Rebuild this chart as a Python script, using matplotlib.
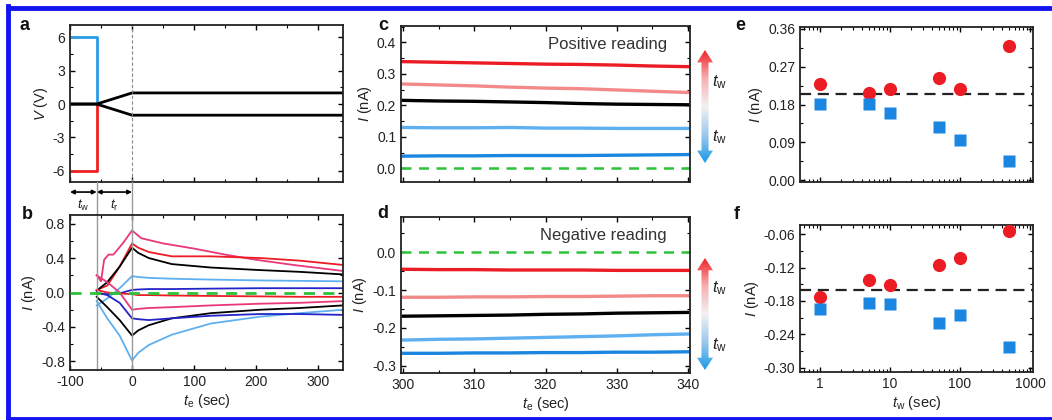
import matplotlib
matplotlib.use('Agg')
import matplotlib.pyplot as plt
import numpy as np
from matplotlib.ticker import MultipleLocator, LogLocator, NullFormatter
from matplotlib.colors import LinearSegmentedColormap
from matplotlib.patches import Polygon
from matplotlib.lines import Line2D
import matplotlib.transforms as mtransforms

plt.rcParams['font.family'] = ['Liberation Sans', 'DejaVu Sans']
plt.rcParams['mathtext.fontset'] = 'custom'
plt.rcParams['mathtext.rm'] = 'Liberation Sans'
plt.rcParams['mathtext.it'] = 'Liberation Sans:italic'
plt.rcParams['axes.unicode_minus'] = False

# ---- panel a : voltage protocol ----
t_write = -57
a_pulse_t = [-100, t_write, t_write]
a_pulse_pos = [6, 6, 0]
a_pulse_neg = [-6, -6, 0]
a_read_t = [-100, t_write, 0, 340]
a_read_pos = [0, 0, 1, 1]
a_read_neg = [0, 0, -1, -1]

# ---- panel b : current transients ----
b_mag_pos_t = [-57, -50, -45, -38, -30, -15, 0, 15, 50, 100, 150, 200, 260, 340]
b_mag_pos = [0.20, 0.13, 0.38, 0.44, 0.44, 0.57, 0.72, 0.63, 0.57, 0.51, 0.44, 0.38, 0.32, 0.25]
b_t = [-57, -40, -20, 0, 10, 27, 64, 127, 207, 270, 340]
b_red_pos = [0.03, 0.08, 0.30, 0.57, 0.52, 0.47, 0.42, 0.42, 0.40, 0.37, 0.32]
b_black_pos = [0.02, 0.12, 0.30, 0.52, 0.46, 0.40, 0.33, 0.29, 0.26, 0.24, 0.21]
b_lblue_pos = [-0.15, -0.07, 0.05, 0.19, 0.18, 0.17, 0.16, 0.15, 0.14, 0.135, 0.13]
b_dblue_pos = [-0.01, -0.02, -0.01, 0.03, 0.035, 0.04, 0.04, 0.045, 0.05, 0.05, 0.05]
b_red_neg = [0.03, 0.0, -0.01, -0.02, -0.03, -0.03, -0.035, -0.04, -0.045, -0.05, -0.05]
b_mag_neg = [0.20, 0.12, 0.0, -0.20, -0.19, -0.18, -0.17, -0.15, -0.13, -0.12, -0.10]
b_black_neg = [-0.05, -0.17, -0.32, -0.50, -0.44, -0.38, -0.30, -0.24, -0.20, -0.18, -0.15]
b_lblue_neg = [-0.10, -0.30, -0.50, -0.79, -0.70, -0.61, -0.49, -0.36, -0.28, -0.24, -0.20]
b_dblue_neg = [0.0, -0.03, -0.12, -0.30, -0.31, -0.32, -0.30, -0.27, -0.25, -0.25, -0.26]

# ---- panels c, d : reading currents ----
cd_t = [300, 305, 310, 315, 320, 325, 330, 335, 340]
c_red = [0.339, 0.337, 0.335, 0.333, 0.331, 0.330, 0.328, 0.325, 0.323]
c_pink = [0.268, 0.265, 0.262, 0.258, 0.255, 0.253, 0.249, 0.245, 0.241]
c_black = [0.216, 0.214, 0.213, 0.211, 0.209, 0.206, 0.204, 0.203, 0.202]
c_lblue = [0.130, 0.129, 0.129, 0.130, 0.128, 0.128, 0.127, 0.127, 0.127]
c_blue = [0.039, 0.040, 0.040, 0.041, 0.041, 0.041, 0.042, 0.043, 0.044]
d_red = [-0.045, -0.046, -0.046, -0.047, -0.047, -0.047, -0.048, -0.048, -0.048]
d_pink = [-0.119, -0.119, -0.118, -0.118, -0.117, -0.117, -0.116, -0.115, -0.115]
d_black = [-0.169, -0.168, -0.167, -0.166, -0.164, -0.163, -0.161, -0.160, -0.159]
d_lblue = [-0.232, -0.230, -0.229, -0.227, -0.225, -0.223, -0.221, -0.218, -0.216]
d_blue = [-0.267, -0.267, -0.266, -0.266, -0.265, -0.265, -0.264, -0.264, -0.263]

# ---- panels e, f : current vs write time ----
tw = [1, 5, 10, 50, 100, 500]
e_red = [0.228, 0.207, 0.216, 0.242, 0.216, 0.320]
e_blue = [0.181, 0.182, 0.159, 0.127, 0.095, 0.047]
e_ref = 0.204
f_red = [-0.173, -0.143, -0.151, -0.115, -0.103, -0.053]
f_blue = [-0.194, -0.183, -0.186, -0.219, -0.205, -0.263]
f_ref = -0.161

RED = '#ec1c24'
PINK = '#f28a8a'
MAG = '#e8387a'
LBLUE = '#5fb0f0'
BLUE = '#1a86e0'
DBLUE = '#2424c8'
GREEN = '#2cc23a'

W, H = 1052, 420
fig = plt.figure(figsize=(W / 100, H / 100), dpi=100)


def px_rect(left, top, right, bottom):
    return [left / W, 1 - bottom / H, (right - left) / W, (bottom - top) / H]


def style(ax):
    ax.tick_params(which='both', direction='in', top=True, right=True,
                   labelsize=10, labelcolor='#222')
    ax.tick_params(which='major', length=3.5, width=1)
    ax.tick_params(which='minor', length=2, width=0.8)
    for s in ax.spines.values():
        s.set_linewidth(1.3)
        s.set_color('#222')


ax_a = fig.add_axes(px_rect(70, 25, 343, 182))
ax_b = fig.add_axes(px_rect(70, 215, 343, 370))
ax_c = fig.add_axes(px_rect(401, 26, 690, 182))
ax_d = fig.add_axes(px_rect(401, 217, 690, 373))
ax_e = fig.add_axes(px_rect(800, 27, 1033, 182))
ax_f = fig.add_axes(px_rect(800, 225, 1033, 372))

lab = dict(fontsize=10.5, color='#222')

# panel a
ax_a.plot(a_pulse_t, a_pulse_pos, color='#2a9be6', lw=2)
ax_a.plot(a_pulse_t, a_pulse_neg, color='#ee2020', lw=2)
ax_a.plot(a_read_t, a_read_pos, color='k', lw=2)
ax_a.plot(a_read_t, a_read_neg, color='k', lw=2)
ax_a.axvline(0, color='#888', lw=0.8, ls=(0, (3, 2)))
ax_a.set_xlim(-100, 340)
ax_a.set_ylim(-7, 7.1)
ax_a.set_yticks([-6, -3, 0, 3, 6])
ax_a.yaxis.set_minor_locator(MultipleLocator(1.5))
ax_a.xaxis.set_major_locator(MultipleLocator(100))
ax_a.xaxis.set_minor_locator(MultipleLocator(50))
ax_a.set_xticklabels([])
ax_a.set_ylabel(r'$V$ (V)', labelpad=2, **lab)
style(ax_a)

bl = mtransforms.blended_transform_factory(ax_a.transData, ax_a.transAxes)
for x0, x1, txt in [(-100, t_write, r'$t_\mathrm{w}$'), (t_write, 0, r'$t_\mathrm{r}$')]:
    ax_a.annotate('', xy=(x0, -0.064), xytext=(x1, -0.064), xycoords=bl, textcoords=bl,
                  arrowprops=dict(arrowstyle='<|-|>', color='k', lw=1.2,
                                  mutation_scale=6, shrinkA=0, shrinkB=0),
                  annotation_clip=False)
    ax_a.text((x0 + x1) / 2, -0.15, txt, transform=bl, ha='center', va='center',
              fontsize=9.5, color='#222')

# panel b
ax_b.plot(b_mag_pos_t, b_mag_pos, color=MAG, lw=1.3)
for ys, col in [(b_red_pos, RED), (b_black_pos, 'k'), (b_lblue_pos, LBLUE),
                (b_dblue_pos, DBLUE), (b_red_neg, RED), (b_mag_neg, MAG),
                (b_black_neg, 'k'), (b_lblue_neg, LBLUE), (b_dblue_neg, DBLUE)]:
    ax_b.plot(b_t, ys, color=col, lw=1.3)
ax_b.axhline(0, color=GREEN, lw=2, ls=(0, (4, 3)), zorder=5)
blb = mtransforms.blended_transform_factory(ax_b.transData, ax_b.transAxes)
ax_b.plot([t_write, t_write], [0, 1.215], transform=blb, color='#999', lw=1,
          clip_on=False)
ax_b.plot([0, 0], [0, 1.215], transform=blb, color='#999', lw=1, clip_on=False)
ax_b.set_xlim(-100, 340)
ax_b.set_ylim(-0.9, 0.9)
ax_b.set_yticks([-0.8, -0.4, 0.0, 0.4, 0.8])
ax_b.yaxis.set_minor_locator(MultipleLocator(0.2))
ax_b.xaxis.set_major_locator(MultipleLocator(100))
ax_b.xaxis.set_minor_locator(MultipleLocator(50))
ax_b.set_xlabel(r'$t_\mathrm{e}$ (sec)', labelpad=2, **lab)
ax_b.set_ylabel(r'$I$ (nA)', labelpad=2, **lab)
style(ax_b)

# panels c, d
for ax, series in [(ax_c, [c_red, c_pink, c_black, c_lblue, c_blue]),
                   (ax_d, [d_red, d_pink, d_black, d_lblue, d_blue])]:
    for ys, col in zip(series, [RED, PINK, 'k', LBLUE, BLUE]):
        ax.plot(cd_t, ys, color=col, lw=2.4)
    ax.axhline(0, color=GREEN, lw=1.8, ls=(0, (4, 3)))
    ax.set_xlim(299.7, 340.3)
    ax.xaxis.set_major_locator(MultipleLocator(10))
    ax.xaxis.set_minor_locator(MultipleLocator(5))
    ax.yaxis.set_major_locator(MultipleLocator(0.1))
    ax.yaxis.set_minor_locator(MultipleLocator(0.05))
    ax.set_ylabel(r'$I$ (nA)', labelpad=2, **lab)
    style(ax)
ax_c.set_ylim(-0.043, 0.452)
ax_c.set_xticklabels([])
ax_d.set_ylim(-0.319, 0.093)
ax_d.set_xlabel(r'$t_\mathrm{e}$ (sec)', labelpad=2, **lab)
ax_c.text(0.92, 0.88, 'Positive reading', transform=ax_c.transAxes, ha='right',
          va='center', fontsize=12, color='#333')
ax_d.text(0.92, 0.88, 'Negative reading', transform=ax_d.transAxes, ha='right',
          va='center', fontsize=12, color='#333')

# panels e, f
for ax, r, b, ref in [(ax_e, e_red, e_blue, e_ref), (ax_f, f_red, f_blue, f_ref)]:
    ax.axhline(ref, color='#222', lw=1.6, ls=(0, (5, 3)), zorder=1)
    ax.plot(tw, r, 'o', color=RED, ms=9.5, mec='none', zorder=3, clip_on=False)
    ax.plot(tw, b, 's', color=BLUE, ms=8, mec='none', zorder=3, clip_on=False)
    ax.set_xscale('log')
    ax.set_xlim(0.52, 1100)
    ax.xaxis.set_minor_locator(LogLocator(base=10, subs=np.arange(2, 10)))
    ax.xaxis.set_minor_formatter(NullFormatter())
    ax.set_ylabel(r'$I$ (nA)', labelpad=2, **lab)
    style(ax)
ax_e.set_ylim(-0.004, 0.364)
ax_e.set_yticks([0.0, 0.09, 0.18, 0.27, 0.36])
ax_e.set_yticklabels(['0.00', '0.09', '0.18', '0.27', '0.36'])
ax_e.yaxis.set_minor_locator(MultipleLocator(0.045))
ax_e.set_xticklabels([])
ax_f.set_ylim(-0.308, -0.043)
ax_f.set_yticks([-0.30, -0.24, -0.18, -0.12, -0.06])
ax_f.set_yticklabels(['-0.30', '-0.24', '-0.18', '-0.12', '-0.06'])
ax_f.yaxis.set_minor_locator(MultipleLocator(0.03))
ax_f.set_xticks([1, 10, 100, 1000])
ax_f.set_xticklabels(['1', '10', '100', '1000'])
ax_f.set_xlabel(r'$t_\mathrm{w}$ (sec)', labelpad=2, **lab)

# gradient arrows
cmap = LinearSegmentedColormap.from_list('bw_r', ['#1a9ae8', '#9cc8ee', '#f4f0f2',
                                                  '#f6b0b0', '#ee2228'])


def gradient_arrow(rect):
    ax = fig.add_axes(rect)
    ax.set_axis_off()
    ax.set_xlim(0, 1)
    ax.set_ylim(0, 1)
    hd, sw = 0.11, 0.22
    verts = [(0.5, 1), (1, 1 - hd), (0.5 + sw, 1 - hd), (0.5 + sw, hd), (1, hd),
             (0.5, 0), (0, hd), (0.5 - sw, hd), (0.5 - sw, 1 - hd), (0, 1 - hd)]
    poly = Polygon(verts, closed=True, fc='none', ec='none', transform=ax.transAxes)
    ax.add_patch(poly)
    grad = np.linspace(0, 1, 256).reshape(-1, 1)
    im = ax.imshow(grad, cmap=cmap, extent=[0, 1, 0, 1], aspect='auto', origin='lower')
    im.set_clip_path(poly)


gradient_arrow(px_rect(697, 50, 713, 163))
gradient_arrow(px_rect(697, 258, 713, 370))
for y in [82, 137, 288, 345]:
    fig.text(712 / W, 1 - y / H, r'$t_\mathrm{w}$', fontsize=12, color='#222',
             ha='left', va='center')

# panel letters
for x, y, s in [(25, 25, 'a'), (27, 215, 'b'), (383, 25, 'c'), (383, 213, 'd'),
                (740, 25, 'e'), (737, 215, 'f')]:
    fig.text(x / W, 1 - y / H, s, fontsize=13, fontweight='bold', ha='center',
             va='center', color='#111')

# blue frame
fr = '#1414f0'
fig.add_artist(Line2D([8 / W, 8 / W], [0, 1 - 6 / H], color=fr, lw=3.5,
                      transform=fig.transFigure))
fig.add_artist(Line2D([8 / W, 1], [1 - 7.5 / H, 1 - 7.5 / H], color=fr, lw=3.5,
                      transform=fig.transFigure))
fig.add_artist(Line2D([8 / W, 1], [1.2 / H, 1.2 / H], color=fr, lw=3.5,
                      transform=fig.transFigure))

fig.savefig('out.png', dpi=100)
